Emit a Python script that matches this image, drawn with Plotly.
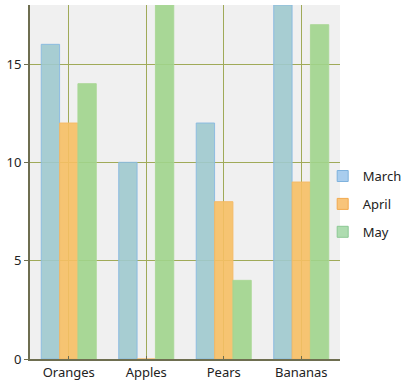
import plotly.graph_objects as go

categories = ["Oranges", "Apples", "Pears", "Bananas"]
march = [16, 10, 12, 18]
april = [12, 0, 8, 9]
may = [14, 18, 4, 17]
series_names = ["March", "April", "May"]
y_ticks = [0, 5, 10, 15]

bar_fill = ["rgba(158,201,206,0.9)", "rgba(246,191,100,0.9)", "rgba(160,212,140,0.9)"]
bar_line = ["rgba(135,185,225,0.9)", "rgba(245,185,100,0.9)", "rgba(170,215,150,0.9)"]
legend_fill = ["#a9cdee", "#f8c47a", "#aedcb0"]
legend_line = ["#7fb2dd", "#f2a94e", "#8cc894"]

fig = go.Figure()
for i, vals in enumerate([march, april, may]):
    fig.add_trace(go.Bar(
        x=categories, y=vals, name=series_names[i], showlegend=False,
        marker=dict(color=bar_fill[i], line=dict(color=bar_line[i], width=1)),
    ))
for i in range(3):
    fig.add_trace(go.Scatter(
        x=[None], y=[None], mode="markers", name=series_names[i],
        legendgroup=series_names[i],
        marker=dict(symbol="square", size=11, color=legend_fill[i],
                    line=dict(color=legend_line[i], width=1)),
    ))

grid = "#a0aa58"
axis = "#6e6e50"
fig.update_layout(
    width=403, height=385,
    margin=dict(l=30, r=63, t=5, b=26, autoexpand=False),
    paper_bgcolor="white", plot_bgcolor="#f0f0f0",
    barmode="group", bargap=0.29, bargroupgap=0,
    font=dict(family="Noto Sans", size=13, color="#222222"),
    legend=dict(xref="container", yref="container",
                x=0.833, xanchor="left", y=0.47, yanchor="middle",
                traceorder="grouped", tracegroupgap=8, indentation=-13,
                font=dict(size=13, color="#222222"),
                itemwidth=30, bgcolor="rgba(0,0,0,0)"),
    xaxis=dict(showgrid=True, gridcolor=grid, gridwidth=1, automargin=False,
               showline=True, linecolor=axis, linewidth=2,
               ticks="inside", ticklen=3, tickcolor=axis, zeroline=False),
    yaxis=dict(range=[0, 18], tickvals=y_ticks, showgrid=True, gridcolor=grid,
               gridwidth=1, showline=True, linecolor=axis, linewidth=2, automargin=False,
               ticks="outside", ticklen=4, tickcolor=axis, zeroline=False),
)
fig.write_html("out.html", config={"displayModeBar": False},
               post_script="document.body.style.margin='0';document.body.style.padding='0';document.body.style.overflow='hidden';")
